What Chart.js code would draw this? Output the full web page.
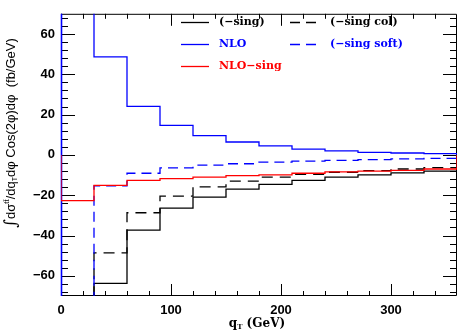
<!DOCTYPE html>
<html>
<head>
<meta charset="utf-8">
<script src="https://cdn.jsdelivr.net/npm/chart.js@4.4.0/dist/chart.umd.min.js"></script>
<style>
html,body{margin:0;padding:0;background:#fff;}
#wrap{width:457px;height:333px;position:relative;}
</style>
</head>
<body>
<div id="wrap"><canvas id="c" width="457" height="333"></canvas></div>
<script>
// bin edges (GeV)
const binEdges = [0,30,60,90,120,150,180,210,240,270,300,330,360];
// bin contents (fb/GeV), one value per 30 GeV bin
const nloVals      = [110, 48.6, 24.1, 14.6, 9.6, 6.4, 4.5, 2.9, 2.0, 1.3, 0.95, 0.6];
const nloSingVals  = [-22.7, -15.1, -12.6, -11.8, -11.0, -10.3, -9.9, -9.1, -8.4, -8.0, -7.7, -7.0];
const singVals     = [-100, -63.7, -37.3, -26.4, -20.9, -17.0, -14.6, -12.6, -11.0, -9.9, -8.9, -8.0];
const singColVals  = [-90, -48.6, -28.7, -20.5, -15.9, -13.0, -11.0, -9.7, -8.6, -7.8, -7.0, -6.3];
const singSoftVals = [-120, -15.4, -9.1, -6.4, -5.1, -4.4, -3.6, -3.1, -2.7, -2.3, -2.0, -1.7];
// axis tick labels
const xTickLabels = [0, 100, 200, 300];
const yTickLabels = [-60, -40, -20, 0, 20, 40, 60];
const xRange = [0, 360];
const yRange = [-70, 70];

function histo(vals, fromZero){
  const pts = [];
  if (fromZero) pts.push({x: binEdges[0], y: 0});
  vals.forEach((v,i)=>pts.push({x: binEdges[i], y: v}));
  pts.push({x: binEdges[binEdges.length-1], y: vals[vals.length-1]});
  pts.push({x: binEdges[binEdges.length-1], y: 0});
  return pts;
}

const BLUE = '#0000ff', RED = '#ff0000', BLACK = '#000000';

const legendItems = [
  {label:'(\u2212sing)',      color:BLACK, text:BLACK, dash:[],     col:0, row:0},
  {label:'NLO',               color:BLUE,  text:BLUE,  dash:[],     col:0, row:1},
  {label:'NLO\u2212sing',     color:RED,   text:RED,   dash:[],     col:0, row:2},
  {label:'(\u2212sing col)',  color:BLACK, text:BLACK, dash:[10,6], col:1, row:0},
  {label:'(\u2212sing soft)', color:BLUE,  text:BLUE,  dash:[10,6], col:1, row:1}
];

const framePlugin = {
  id: 'frame',
  beforeDatasetsDraw(chart){
    const {ctx, chartArea:a, scales:{x, y}} = chart;
    ctx.save();
    ctx.strokeStyle = BLACK;
    ctx.lineWidth = 1;
    ctx.beginPath();
    for (let v = xRange[0]; v <= xRange[1]; v += 20){
      const px = Math.round(x.getPixelForValue(v)) + 0.5;
      const len = (v % 100 === 0) ? 12 : 5;
      ctx.moveTo(px, a.bottom); ctx.lineTo(px, a.bottom - len);
      ctx.moveTo(px, a.top);    ctx.lineTo(px, a.top + len);
    }
    for (let v = -68; v <= 68; v += 4){
      const py = Math.round(y.getPixelForValue(v)) + 0.5;
      const len = (v % 20 === 0) ? 14 : 7;
      ctx.moveTo(a.left, py);  ctx.lineTo(a.left + len, py);
      ctx.moveTo(a.right, py); ctx.lineTo(a.right - len, py);
    }
    ctx.stroke();
    ctx.beginPath();
    ctx.moveTo(a.left, a.top + 0.5); ctx.lineTo(a.right - 0.5, a.top + 0.5);
    ctx.lineTo(a.right - 0.5, a.bottom - 0.5); ctx.lineTo(a.left, a.bottom - 0.5);
    ctx.stroke();
    ctx.strokeStyle = BLUE;
    ctx.lineWidth = 1.6;
    ctx.beginPath();
    ctx.moveTo(a.left + 0.5, a.top); ctx.lineTo(a.left + 0.5, a.bottom);
    ctx.stroke();
    ctx.restore();
  },
  afterDraw(chart){
    const {ctx} = chart;
    ctx.save();
    // legend
    const colX = [[181, 209, 219], [290, 318, 330]];
    const rowY = [22, 44, 66];
    ctx.font = 'bold 11px "DejaVu Serif"';
    ctx.textBaseline = 'middle';
    ctx.textAlign = 'left';
    legendItems.forEach(it=>{
      const [x0, x1, tx] = colX[it.col];
      const yy = rowY[it.row] + 0.5;
      ctx.strokeStyle = it.color; ctx.lineWidth = 1.3; ctx.setLineDash(it.dash);
      ctx.beginPath(); ctx.moveTo(x0, yy); ctx.lineTo(x1, yy); ctx.stroke();
      ctx.setLineDash([]);
      ctx.fillStyle = it.text;
      ctx.fillText(it.label, tx, yy);
    });
    // x title
    ctx.fillStyle = BLACK;
    ctx.textBaseline = 'alphabetic';
    const parts = [
      {t:'q', f:'bold 12px "DejaVu Serif"', dy:0},
      {t:'T', f:'bold 7px "DejaVu Serif"', dy:2},
      {t:' (GeV)', f:'bold 12px "DejaVu Serif"', dy:0}
    ];
    drawParts(ctx, parts, 257, 327);
    // y title (rotated)
    ctx.translate(15, 133);
    ctx.rotate(-Math.PI/2);
    const yparts = [
      {t:'\u222B', f:'italic 17px "DejaVu Serif"', dy:1},
      {t:'d\u03C3', f:'13px "Liberation Sans"', dy:0},
      {t:'tt\u0304', f:'8px "Liberation Sans"', dy:-6},
      {t:'/dq', f:'13px "Liberation Sans"', dy:0},
      {t:'T', f:'7px "Liberation Sans"', dy:2},
      {t:'d\u03C6 Cos(2\u03C6)d\u03C6  (fb/GeV)', f:'13px "Liberation Sans"', dy:0}
    ];
    drawParts(ctx, yparts, 0, 0);
    ctx.restore();
  }
};

function drawParts(ctx, parts, cx, by){
  let w = 0;
  parts.forEach(p=>{ ctx.font = p.f; p.w = ctx.measureText(p.t).width; w += p.w; });
  let x = cx - w/2;
  ctx.textAlign = 'left';
  parts.forEach(p=>{ ctx.font = p.f; ctx.fillText(p.t, x, by + p.dy); x += p.w; });
}

const lineDs = (vals, color, dash, order, fromZero) => ({
  data: histo(vals, fromZero),
  borderColor: color,
  borderWidth: 1.3,
  borderDash: dash,
  pointRadius: 0,
  fill: false,
  stepped: 'before',
  tension: 0,
  order: order
});

new Chart(document.getElementById('c'), {
  type: 'line',
  data: {
    datasets: [
      lineDs(nloSingVals, RED, [], 1, true),
      lineDs(nloVals, BLUE, [], 2, false),
      lineDs(singSoftVals, BLUE, [10,6], 3, false),
      lineDs(singColVals, BLACK, [11,7], 4, false),
      lineDs(singVals, BLACK, [], 5, false)
    ]
  },
  options: {
    responsive: false,
    animation: false,
    events: [],
    layout: {padding: {top: 1, right: 0, left: 0, bottom: 0}},
    plugins: {legend: {display: false}, tooltip: {enabled: false}},
    scales: {
      x: {
        type: 'linear', min: xRange[0], max: xRange[1],
        grid: {display: false, drawTicks: false},
        border: {display: false},
        afterBuildTicks: s => { s.ticks = xTickLabels.map(v=>({value:v})); },
        afterFit: s => { s.height = 37; },
        ticks: {color: BLACK, padding: 7, maxRotation: 0, font: {family: '"Liberation Sans"', size: 13, weight: 'bold'},
          callback: v => String(v)}
      },
      y: {
        type: 'linear', min: yRange[0], max: yRange[1],
        grid: {display: false, drawTicks: false},
        border: {display: false},
        afterBuildTicks: s => { s.ticks = yTickLabels.map(v=>({value:v})); },
        afterFit: s => { s.width = 61; },
        ticks: {color: BLACK, padding: 6, font: {family: '"Liberation Sans"', size: 13, weight: 'bold'},
          callback: v => (v < 0 ? '\u2212' + Math.abs(v) : String(v))}
      }
    }
  },
  plugins: [framePlugin]
});
</script>
</body>
</html>
